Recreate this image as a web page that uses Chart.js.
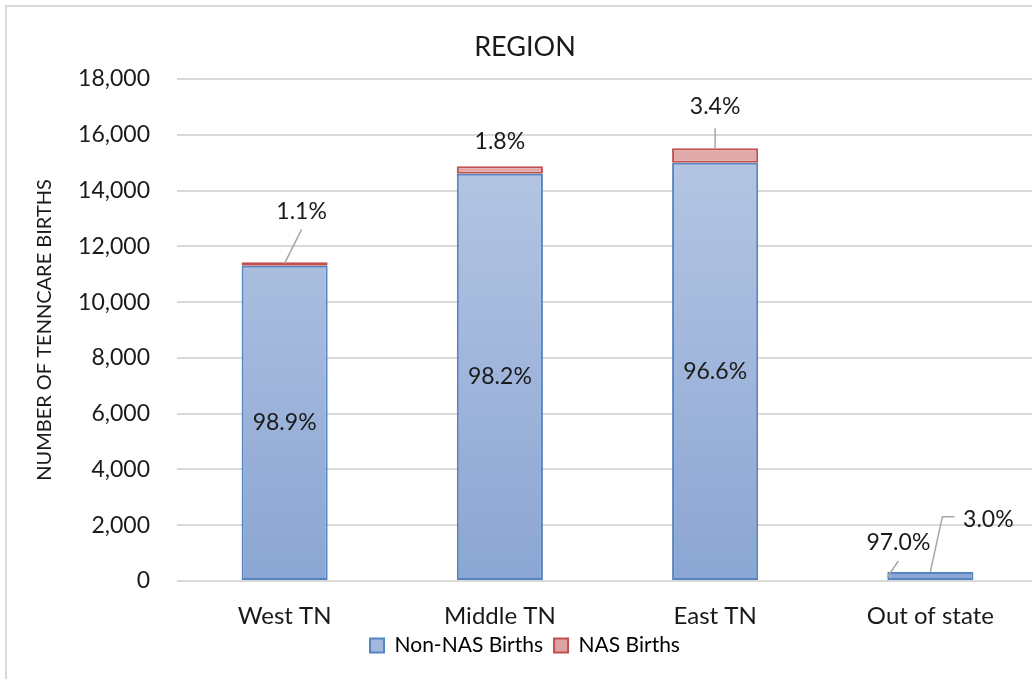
<!DOCTYPE html>
<html>
<head>
<meta charset="utf-8">
<script src="https://cdn.jsdelivr.net/npm/chart.js@4/dist/chart.umd.min.js"></script>
<style>
  html, body { margin: 0; padding: 0; overflow: hidden; background: #fff; }
  #frame { position: absolute; left: 5px; top: 5px; width: 1045px; height: 700px; border: 2px solid #d9d9d9; }
  #wrap { position: absolute; left: 0; top: 0; width: 1050px; height: 679px; }
</style>
</head>
<body>
<div id="frame"></div>
<div id="wrap"><canvas id="chart-region" width="1050" height="679"></canvas></div>
<script>
// data
const categories = ["West TN", "Middle TN", "East TN", "Out of state"];
const nonNasBirths = [11300, 14606, 14993, 323];
const nasBirths = [126, 268, 528, 10];
const nonNasPct = ["98.9%", "98.2%", "96.6%", "97.0%"];
const nasPct = ["1.1%", "1.8%", "3.4%", "3.0%"];
const yTicks = [0, 2000, 4000, 6000, 8000, 10000, 12000, 14000, 16000, 18000];

const FONT = "Lato";
const TEXT = "#1a1a1a";

// label placement, relative to bar top centre (null = centred in bar)
const labelPlace = [
  [null, null, null, { dx: -32, dy: -29, line: [[-43, 5], [-32, -11]] }],
  [
    { dx: 17, dy: -51, line: [[0, 1], [17, -33]] },
    { dx: 0, dy: -25, line: null },
    { dx: 0, dy: -42, line: [[0, 0], [0, -20]] },
    { dx: 58, dy: -52, line: [[0, 0], [12, -55], [24, -55]] },
  ],
];

function gradient(c, top, bottom) {
  const area = c.chart.chartArea;
  if (!area) return bottom;
  const g = c.chart.ctx.createLinearGradient(0, area.top, 0, area.bottom);
  g.addColorStop(0, top);
  g.addColorStop(1, bottom);
  return g;
}

const pctLabels = {
  id: "pctLabels",
  afterDatasetsDraw(chart) {
    const ctx = chart.ctx;
    const texts = [nonNasPct, nasPct];
    ctx.save();
    ctx.font = "23px " + FONT;
    ctx.fillStyle = TEXT;
    ctx.textAlign = "center";
    ctx.textBaseline = "middle";
    ctx.strokeStyle = "#a6a6a6";
    ctx.lineWidth = 1.5;
    chart.data.datasets.forEach((ds, di) => {
      const meta = chart.getDatasetMeta(di);
      meta.data.forEach((bar, i) => {
        const p = labelPlace[di][i];
        if (!p) {
          ctx.fillText(texts[di][i], bar.x, (bar.y + bar.base) / 2);
          return;
        }
        if (p.line) {
          ctx.beginPath();
          p.line.forEach((pt, k) => {
            const fn = k === 0 ? "moveTo" : "lineTo";
            ctx[fn](bar.x + pt[0], bar.y + pt[1]);
          });
          ctx.stroke();
        }
        ctx.fillText(texts[di][i], bar.x + p.dx, bar.y + p.dy);
      });
    });
    ctx.restore();
  },
};

new Chart(document.getElementById("chart-region"), {
  type: "bar",
  data: {
    labels: categories,
    datasets: [
      {
        label: "Non-NAS Births",
        data: nonNasBirths,
        backgroundColor: (c) => gradient(c, "#bccbe6", "#8ba6d3"),
        borderColor: "#5584c2",
        borderWidth: 2,
        borderSkipped: false,
        categoryPercentage: 0.4,
        barPercentage: 1,
      },
      {
        label: "NAS Births",
        data: nasBirths,
        backgroundColor: (c) => gradient(c, "#e4b0af", "#cf8987"),
        borderColor: "#c0504d",
        borderWidth: 2,
        borderSkipped: false,
        categoryPercentage: 0.4,
        barPercentage: 1,
      },
    ],
  },
  options: {
    responsive: false,
    animation: false,
    layout: { padding: { left: 12, right: 12, top: 0, bottom: 13 } },
    scales: {
      x: {
        stacked: true,
        grid: { display: false },
        border: { display: false },
        ticks: { color: TEXT, font: { family: FONT, size: 24 }, padding: 13 },
        afterFit: (s) => { s.height = 43; },
      },
      y: {
        stacked: true,
        min: 0,
        max: 18000,
        afterBuildTicks: (s) => { s.ticks = yTicks.map((v) => ({ value: v })); },
        ticks: {
          color: TEXT,
          font: { family: FONT, size: 23 },
          padding: 27,
          callback: (v) => v.toLocaleString("en-US"),
        },
        grid: { color: "#d9d9d9", lineWidth: 2, drawTicks: false },
        border: { display: false },
        title: {
          display: true,
          text: "NUMBER OF TENNCARE BIRTHS",
          color: TEXT,
          font: { family: FONT, size: 20 },
          padding: { top: 21, bottom: 0 },
        },
        afterFit: (s) => { s.width = 165; },
      },
    },
    plugins: {
      title: {
        display: true,
        text: "REGION",
        color: TEXT,
        font: { family: FONT, size: 27, weight: "normal" },
        padding: { top: 31, bottom: 15.6 },
      },
      legend: {
        position: "bottom",
        labels: {
          color: TEXT,
          font: { family: FONT, size: 21 },
          boxWidth: 14,
          boxHeight: 14,
          padding: 11,
          generateLabels: () => [
            { text: "Non-NAS Births", fillStyle: "#a3b8dc", strokeStyle: "#5584c2", lineWidth: 2, datasetIndex: 0 },
            { text: "NAS Births", fillStyle: "#dba3a2", strokeStyle: "#c0504d", lineWidth: 2, datasetIndex: 1 },
          ],
        },
      },
      tooltip: { enabled: false },
    },
  },
  plugins: [pctLabels],
});
</script>
</body>
</html>
